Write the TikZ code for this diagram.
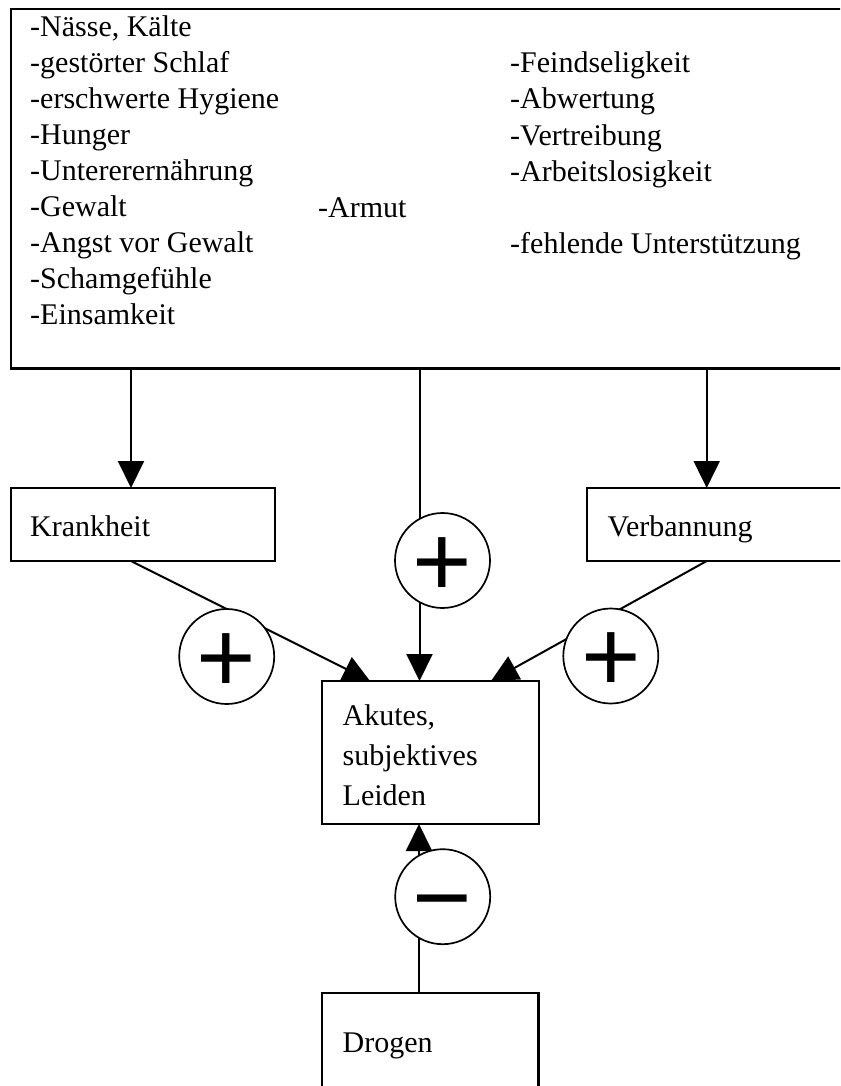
\documentclass[tikz,border=0pt]{standalone}
\usepackage{fontspec}
\setmainfont{Liberation Serif}
\newfontfamily\signfont{Liberation Sans}
\usetikzlibrary{arrows.meta}
\begin{document}
\begin{tikzpicture}[x=1pt,y=-1pt,
  box/.style={draw, line width=2.2pt, fill=white, inner sep=0pt, outer sep=0pt, anchor=north west},
  lbl/.style={anchor=base west, inner sep=0pt, font=\fontsize{30}{36}\selectfont},
  arr/.style={line width=2pt, -{Triangle[length=27pt,width=26pt]}},
  sign/.style={circle, draw, fill=white, line width=1.7pt, minimum size=95pt, inner sep=0pt,
    font=\signfont\fontsize{102}{102}\selectfont, text height=71.8pt, text depth=0pt}
]
\useasboundingbox (0,0) rectangle (840,1086);
\clip (0,0) rectangle (840,1086);

% boxes
\node[box, minimum width=850pt, minimum height=359.5pt] (causes) at (11,9) {};
\node[box, minimum width=264pt, minimum height=73pt] (kr) at (11,488) {};
\node[box, minimum width=300pt, minimum height=73pt] (vb) at (586.7,488) {};
\node[box, minimum width=217pt, minimum height=143pt] (ak) at (322,681) {};
\node[box, minimum width=216.5pt, minimum height=150pt] (dr) at (322,993) {};

% list of causes
\foreach \t [count=\i from 0] in {{-Nässe, Kälte},{-gestörter Schlaf},{-erschwerte Hygiene},
  {-Hunger},{-Untererernährung},{-Gewalt},{-Angst vor Gewalt},{-Schamgefühle},{-Einsamkeit}}
  \node[lbl] (l\i) at (30,{36.8+36*\i}) {\t};
\node[lbl] (armut) at (318,217) {-Armut};
\foreach \t/\yy [count=\i] in {-Feindseligkeit/72.7,-Abwertung/109,-Vertreibung/145.5,
  -Arbeitslosigkeit/181.7,-fehlende Unterstützung/253}
  \node[lbl] (r\i) at (510,\yy) {\t};

% box labels
\node[lbl] (krt) at (30,536.7) {Krankheit};
\node[lbl] (vbt) at (607.5,536.7) {Verbannung};
\node[lbl] (ak1) at (342.5,725) {Akutes,};
\node[lbl] (ak2) at (342.5,765) {subjektives};
\node[lbl] (ak3) at (342.5,805) {Leiden};
\node[lbl] (drt) at (342.5,1052.3) {Drogen};

% connector ports
\coordinate (kin) at (131,488);
\coordinate (vin) at (706.7,488);
\coordinate (akl) at (370,681);
\coordinate (akm) at (419.5,681);
\coordinate (akr) at (491,681);
\coordinate (akb) at (419,824);

% connectors
\draw[arr] (causes.south -| kin) -- (kin);
\draw[arr] (causes.south -| vin) -- (vin);
\draw[arr] (causes.south -| akm) -- (akm);
\draw[arr] (kr.south -| kin) -- (akl);
\draw[arr] (vb.south -| vin) -- (akr);
\draw[arr] (dr.north -| akb) -- (akb);

% polarity signs
\node[sign] (s1) at (226.7,656.5) {+};
\node[sign] (s2) at (442.5,560.5) {+};
\node[sign] (s3) at (610.8,656) {+};
\node[sign] (s4) at (442.7,896.7) {−};
\end{tikzpicture}
\end{document}
